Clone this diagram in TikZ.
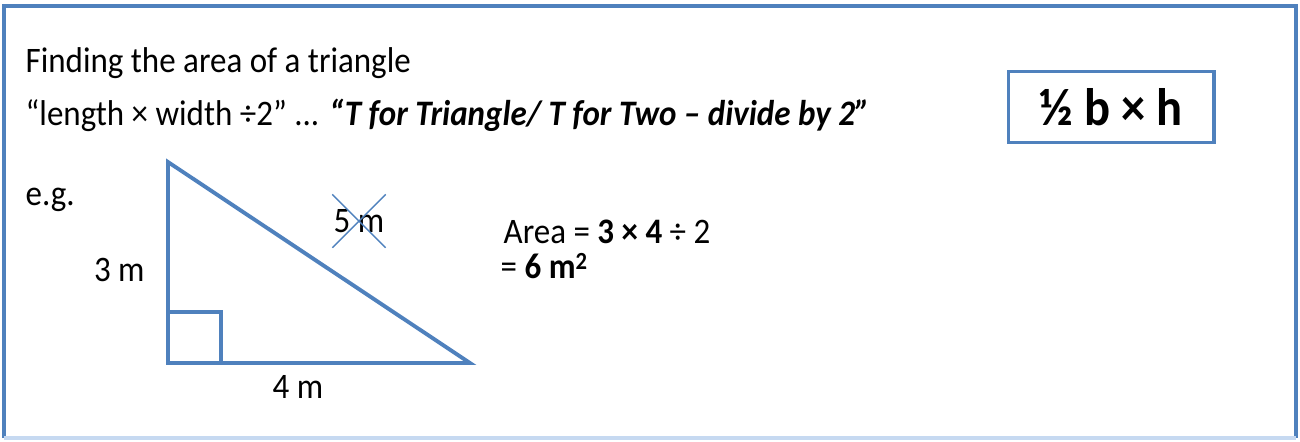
\documentclass[tikz,border=0pt]{standalone}
\usepackage{fontspec}
\setmainfont[FakeStretch=0.92]{Carlito}
\usetikzlibrary{positioning}
\definecolor{frameblue}{RGB}{79,129,189}
\definecolor{paleblue}{RGB}{198,217,241}

\begin{document}
\begin{tikzpicture}[x=0.01cm,y=-0.01cm,font=\fontsize{10.2}{12}\selectfont,
    txt/.style={inner sep=0pt,anchor=base west}]
    \def\edge{1.1pt}
    \useasboundingbox (0,0) rectangle (1300,441);

    \draw[frameblue,line width=\edge] (4,438) -- (4,6) -- (1296,6) -- (1296,438);
    \draw[paleblue,line width=\edge] (4,438) -- (1296,438);

    \node[txt] (title) at (25,72) {Finding the area of a triangle};
    \node[txt] (rule) at (25,125) {“length × width ÷2” ... \textbf{\textit{“T for Triangle/ T for Two – divide by 2”}}};
    \node[txt] (eg) at (25,205) {e.g.};

    \node[draw=frameblue,line width=\edge,minimum width=2.05cm,minimum height=0.71cm,
      font=\bfseries\fontsize{15}{18}\selectfont] (formula) at (1111,107) {½ b × h};

    % triangle
    \coordinate (corner) at (168,363);
    \coordinate (apex) at (168,162);
    \coordinate (tip) at (470,363);
    \draw[frameblue,line width=\edge] (corner) -- (apex) -- (tip) -- cycle;
    \draw[frameblue,line width=\edge] (168,312) -| (221,363);

    \node[anchor=east] (height) at (157,270) {3 m};
    \node (base) at (298,387) {4 m};
    \node[minimum width=0.52cm,minimum height=0.52cm,inner sep=0pt] (slant) at (359,221) {5 m};
    \draw[frameblue,thin] (slant.north west) -- (slant.south east);
    \draw[frameblue,thin] (slant.north east) -- (slant.south west);

    \node[txt] (area) at (503,243) {Area = \textbf{3 × 4} ÷ 2};
    \node[txt] (result) at (500,278) {= \textbf{6 m\raisebox{0.5ex}{\fontsize{7}{8}\selectfont 2}}};
\end{tikzpicture}
\end{document}
